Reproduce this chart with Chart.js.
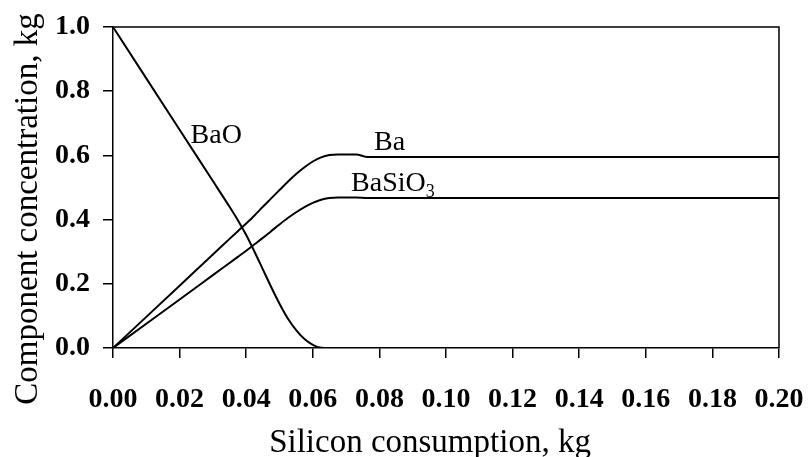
<!DOCTYPE html>
<html>
<head>
<meta charset="utf-8">
<script src="https://cdn.jsdelivr.net/npm/chart.js@4/dist/chart.umd.min.js"></script>
<style>
  html, body { margin: 0; padding: 0; background: #ffffff; }
  #wrap { width: 809px; height: 457px; }
</style>
</head>
<body>
<div id="wrap"><canvas id="chart" width="809" height="457"></canvas></div>
<script>
// Silicon consumption (kg) at which each component mass is given
const siliconKg = [0, 0.01, 0.02, 0.03, 0.035, 0.0375, 0.04, 0.0425, 0.045, 0.0475,
                   0.05, 0.0525, 0.055, 0.0575, 0.06, 0.0625, 0.065, 0.0675, 0.073,
                   0.0765, 0.10, 0.15, 0.20];

// Component masses, kg
const baoKg    = [1.0, 0.84, 0.68, 0.52, 0.44, 0.398, 0.352, 0.30, 0.245, 0.19,
                  0.138, 0.092, 0.056, 0.028, 0.01, 0.001, 0, 0, 0,
                  0, 0, 0, 0];
const baKg     = [0, 0.097, 0.194, 0.291, 0.34, 0.364, 0.388, 0.413, 0.44, 0.466,
                  0.492, 0.518, 0.542, 0.563, 0.581, 0.594, 0.601, 0.603, 0.603,
                  0.595, 0.595, 0.595, 0.595];
const basio3Kg = [0, 0.0757, 0.151, 0.227, 0.265, 0.284, 0.303, 0.323, 0.343, 0.364,
                  0.385, 0.405, 0.423, 0.439, 0.452, 0.462, 0.467, 0.469, 0.469,
                  0.467, 0.467, 0.467, 0.467];

// Axis ticks
const xTicks = [0, 0.02, 0.04, 0.06, 0.08, 0.10, 0.12, 0.14, 0.16, 0.18, 0.20];
const yTicks = [0, 0.2, 0.4, 0.6, 0.8, 1.0];

// Axis titles
const xTitle = 'Silicon consumption, kg';
const yTitle = 'Component concentration, kg';

// Curve labels, anchored in data coordinates (left edge, baseline)
const curveLabels = [
  { text: 'BaO',   sub: '',  x: 0.0233, y: 0.638 },
  { text: 'Ba',    sub: '',  x: 0.0784, y: 0.617 },
  { text: 'BaSiO', sub: '3', x: 0.0715, y: 0.490 }
];

const SERIF = '"Liberation Serif", "Times New Roman", Times, serif';

const toPoints = (ys) => siliconKg.map((x, i) => ({ x: x, y: ys[i] }));

const lineStyle = {
  borderColor: '#000000',
  borderWidth: 2,
  pointRadius: 0,
  fill: false,
  cubicInterpolationMode: 'monotone'
};

// Closed frame around the plot area, curve names and axis titles
const decorPlugin = {
  id: 'frameLabelsTitles',
  afterDatasetsDraw(chart) {
    const { ctx, chartArea: a, scales } = chart;
    ctx.save();
    ctx.strokeStyle = '#000000';
    ctx.lineWidth = 1.5;
    ctx.beginPath();
    ctx.moveTo(a.left, a.top);
    ctx.lineTo(a.right, a.top);
    ctx.lineTo(a.right, a.bottom);
    ctx.stroke();

    ctx.fillStyle = '#000000';
    ctx.textBaseline = 'alphabetic';
    ctx.textAlign = 'left';
    curveLabels.forEach(l => {
      const px = scales.x.getPixelForValue(l.x);
      const py = scales.y.getPixelForValue(l.y);
      ctx.font = '28px ' + SERIF;
      ctx.fillText(l.text, px, py);
      if (l.sub) {
        const w = ctx.measureText(l.text).width;
        ctx.font = '18px ' + SERIF;
        ctx.fillText(l.sub, px + w, py + 6);
      }
    });
    ctx.restore();
  },
  afterDraw(chart) {
    const { ctx } = chart;
    ctx.save();
    ctx.fillStyle = '#000000';
    ctx.font = '33px ' + SERIF;
    ctx.textAlign = 'center';
    ctx.textBaseline = 'alphabetic';
    ctx.fillText(xTitle, 430, 452);
    ctx.translate(37, 209);
    ctx.rotate(-Math.PI / 2);
    ctx.fillText(yTitle, 0, 0);
    ctx.restore();
  }
};

const axisGrid = {
  display: true,
  drawOnChartArea: false,
  drawTicks: true,
  tickLength: 10,
  color: '#000000',
  lineWidth: 1.5
};

new Chart(document.getElementById('chart'), {
  type: 'line',
  data: {
    datasets: [
      Object.assign({ label: 'BaO', data: toPoints(baoKg) }, lineStyle),
      Object.assign({ label: 'Ba', data: toPoints(baKg) }, lineStyle),
      Object.assign({ label: 'BaSiO3', data: toPoints(basio3Kg) }, lineStyle)
    ]
  },
  options: {
    responsive: false,
    animation: false,
    events: [],
    layout: { padding: { top: 27, right: 30, left: 0, bottom: 0 } },
    plugins: {
      legend: { display: false },
      tooltip: { enabled: false }
    },
    scales: {
      x: {
        type: 'linear',
        position: 'bottom',
        min: 0,
        max: 0.2,
        afterFit(scale) {
          scale.height = 109;
          scale.paddingLeft = 0;
          scale.paddingRight = 0;
        },
        afterBuildTicks(scale) { scale.ticks = xTicks.map(v => ({ value: v })); },
        ticks: {
          color: '#000000',
          font: { family: SERIF, size: 28, weight: 'bold' },
          padding: 25,
          maxRotation: 0,
          autoSkip: false,
          callback: (v) => Number(v).toFixed(2)
        },
        grid: axisGrid,
        border: { display: true, color: '#000000', width: 1.5 }
      },
      y: {
        type: 'linear',
        position: 'left',
        min: 0,
        max: 1,
        afterFit(scale) {
          scale.width = 113;
          scale.paddingTop = 0;
          scale.paddingBottom = 0;
        },
        afterBuildTicks(scale) { scale.ticks = yTicks.map(v => ({ value: v })); },
        ticks: {
          color: '#000000',
          font: { family: SERIF, size: 28, weight: 'bold' },
          padding: 13,
          autoSkip: false,
          callback: (v) => Number(v).toFixed(1)
        },
        grid: axisGrid,
        border: { display: true, color: '#000000', width: 1.5 }
      }
    }
  },
  plugins: [decorPlugin]
});
</script>
</body>
</html>
